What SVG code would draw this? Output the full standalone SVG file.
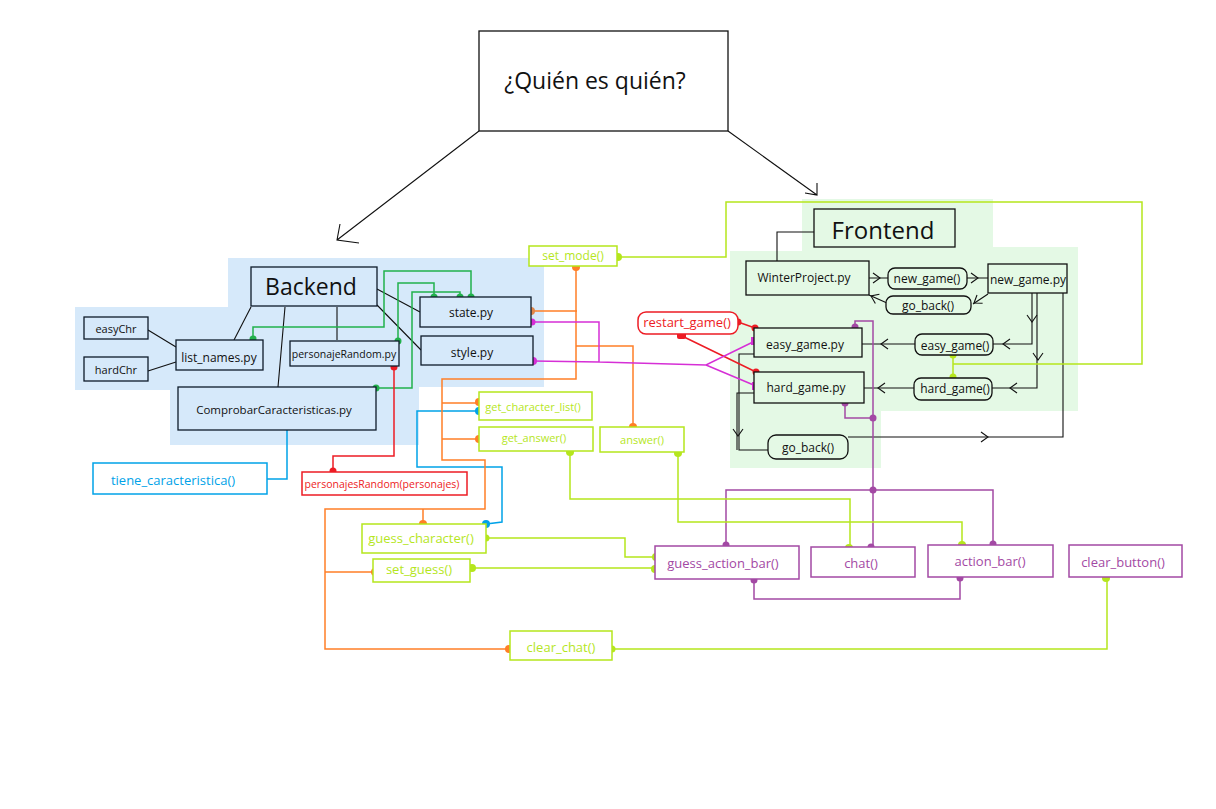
<svg xmlns="http://www.w3.org/2000/svg" width="1216" height="809" viewBox="0 0 1216 809" font-size="12">
<defs>
<style>
text{font-family:"Open Sans","Noto Sans","DejaVu Sans",sans-serif;text-anchor:middle;dominant-baseline:central;fill:#111}
.bk rect{fill:#d6e9fa;stroke:#0d1b2a;stroke-width:1.3}
.fr rect{fill:#e4f9e5;stroke:#111;stroke-width:1.3}
.lf rect{fill:#fff;stroke:#b5e61d;stroke-width:1.5}
.lf text{fill:#b5e61d}
.pf rect{fill:#fff;stroke:#a349a4;stroke-width:1.5}
.pf text{fill:#a349a4}
.rf rect{fill:#fff;stroke:#ed1c24;stroke-width:1.5}
.rf text{fill:#ed1c24}
.bf rect{fill:#fff;stroke:#00a2e8;stroke-width:1.5}
.bf text{fill:#00a2e8}
#connectors path{fill:none;stroke-width:1.5}
.k{stroke:#111;stroke-width:1.1!important}
.g{stroke:#22b14c}.r{stroke:#ed1c24}.b{stroke:#00a2e8}.o{stroke:#ff7f27}.m{stroke:#d62fd6}.p{stroke:#a349a4}.y{stroke:#b5e61d}
.dg{fill:#22b14c}.dr{fill:#ed1c24}.db{fill:#00a2e8}.do{fill:#ff7f27}.dm{fill:#d62fd6}.dp{fill:#a349a4}.dy{fill:#b5e61d}
</style>
<path id="chev" d="M-7,-5 L0,0 L-7,5" fill="none" stroke="#111" stroke-width="1.1"/>
</defs>
<rect width="1216" height="809" fill="#fff"/>
<g id="backend-area"><polygon points="228,258 544,258 544,387 419,387 419,445 170,445 170,390 75,390 75,307 228,307" fill="#d6e9fa"/></g>
<g id="frontend-area"><polygon points="802,199 993,199 993,247 1078,247 1078,411 881,411 881,468 730,468 730,251 802,251" fill="#e4f9e5"/></g>

<g id="connectors">
<path class="k" d="M479,131 L337,240 M340,224 L337,240 L359,243"/>
<path class="k" d="M728,131 L817,195 M817,183 L817,195 L805,193"/>
<path class="k" d="M251,307 L234,340 M285,307 L278,387 M337,307 L337,340 M377,289 L420,312 M377,305 L421,350 M148,330 L176,347 M148,371 L176,362"/>
<path class="k" d="M814,232 H777 V261 M869,278 H888 M967,278 H988 M988,294 L973,304 M887,303 L869,295 M1032,293 V344 H993 M1037,293 V388 H992 M1063,293 V437 H848 M915,344 H862 M914,388 H864 M754,354 H739 V450 H768 M754,393 H737 V450"/>
<use href="#chev" transform="translate(880,278)"/>
<use href="#chev" transform="translate(978,278)"/>
<use href="#chev" transform="translate(974,303) rotate(146)"/>
<use href="#chev" transform="translate(871,296) rotate(204)"/>
<use href="#chev" transform="translate(1032,322) rotate(90)"/>
<use href="#chev" transform="translate(1038,360) rotate(90)"/>
<use href="#chev" transform="translate(1003,344) rotate(180)"/>
<use href="#chev" transform="translate(1010,388) rotate(180)"/>
<use href="#chev" transform="translate(988,437)"/>
<use href="#chev" transform="translate(881,344) rotate(180)"/>
<use href="#chev" transform="translate(878,388) rotate(180)"/>
<use href="#chev" transform="translate(738,436) rotate(90)"/>

<path class="g" d="M253,339 V327 H384 V271 H471 V297 M398,341 V283 H434 V296 M376,388 H412 V292 H460 V297"/>
<path class="r" d="M394,367 V456 H333 V471 M738,322 L755,328 M682,336 L756,372"/>
<path class="b" d="M287,430 V479 H267 M479,411 H417 V467 H502 V522 L486,524"/>
<path class="o" d="M576,267 V379 H442 V460 H485 V509 H325 V649 H509 M442,403 H479 M442,439 H479 M423,509 V524 M325,572 H375 M531,311 H577 M576,346 H633 V427"/>
<path class="m" d="M532,322 H599 V362 M533,361 L599,362 L706,365 L755,341 M706,365 L756,386"/>
<path class="p" d="M855,327 V321 H873 V547 M845,403 V418 H873 M726,545 V490 H993 V544 M754,580 V599 H960 V578"/>
<path class="y" d="M618,257 H726 V202 H1142 V364 H953 M953,355 V377 M570,452 V499 H850 V548 M678,453 V522 H962 V545 M486,538 H625 V557 H656 M472,568 H655 M612,649 H1107 V578"/>
<g class="dg"><circle cx="253" cy="339" r="3.5"/><circle cx="398" cy="341" r="3.5"/><circle cx="376" cy="388" r="3.5"/><circle cx="471" cy="297" r="3.5"/><circle cx="434" cy="297" r="3.5"/><circle cx="460" cy="297" r="3.5"/></g>
<g class="dr"><circle cx="394" cy="367" r="3.5"/><circle cx="333" cy="471" r="3.5"/><circle cx="738" cy="322" r="3.5"/><circle cx="755" cy="328" r="3.5"/><rect x="677" y="332" width="9" height="7" rx="2"/><circle cx="756" cy="372" r="3.5"/></g>
<g class="db"><circle cx="479" cy="411" r="4"/><circle cx="486" cy="524" r="4"/></g>
<g class="do"><circle cx="576" cy="267" r="4"/><circle cx="479" cy="402" r="4"/><circle cx="479" cy="439" r="4"/><circle cx="423" cy="524" r="4"/><circle cx="375" cy="572" r="4"/><circle cx="509" cy="649" r="4"/><circle cx="531" cy="311" r="4" fill="#e0874a"/><circle cx="633" cy="427" r="4"/></g>
<g class="dm"><circle cx="532" cy="322" r="3.5"/><circle cx="533" cy="361" r="4"/><rect x="751" y="337" width="8" height="8"/><rect x="752" y="382" width="8" height="8"/></g>
<g class="dp"><circle cx="855" cy="327" r="3.5"/><circle cx="845" cy="403" r="3.5"/><circle cx="873" cy="418" r="3.5"/><circle cx="873" cy="490" r="3.5"/><circle cx="726" cy="545" r="3.5"/><circle cx="993" cy="544" r="3.5"/><circle cx="871" cy="547" r="3.5"/><circle cx="754" cy="580" r="3.5"/><circle cx="960" cy="578" r="3.5"/></g>
<g class="dy"><circle cx="618" cy="257" r="4"/><circle cx="953" cy="355" r="3.5"/><circle cx="953" cy="377" r="3.5"/><circle cx="570" cy="452" r="4"/><circle cx="849" cy="548" r="4"/><circle cx="678" cy="453" r="4"/><circle cx="962" cy="545" r="4"/><circle cx="486" cy="538" r="3.5"/><circle cx="656" cy="557" r="4"/><circle cx="472" cy="568" r="4"/><circle cx="655" cy="569" r="4"/><circle cx="612" cy="649" r="3.5"/><circle cx="1106" cy="578" r="4"/></g>
</g>

<g id="title"><rect x="479" y="31" width="249" height="100" fill="#fff" stroke="#111" stroke-width="1.3"/><text x="595" y="80" font-size="23">¿Quién es quién?</text></g>

<g id="backend" class="bk"><rect x="251" y="267" width="126" height="39"/><text x="311" y="286" font-size="23">Backend</text></g>
<g id="easyChr" class="bk"><rect x="84" y="317" width="64" height="22"/><text x="116" y="328" font-size="11">easyChr</text></g>
<g id="hardChr" class="bk"><rect x="84" y="357" width="64" height="24"/><text x="116" y="369" font-size="11">hardChr</text></g>
<g id="list_names" class="bk"><rect x="176" y="340" width="87" height="30"/><text x="219" y="357">list_names.py</text></g>
<g id="personajeRandom" class="bk"><rect x="290" y="341" width="109" height="25"/><text x="344" y="354" font-size="10.5">personajeRandom.py</text></g>
<g id="comprobar" class="bk"><rect x="178" y="387" width="198" height="43"/><text x="274" y="409" font-size="11.5">ComprobarCaracteristicas.py</text></g>
<g id="state" class="bk"><rect x="420" y="297" width="111" height="30"/><text x="471" y="312">state.py</text></g>
<g id="style" class="bk"><rect x="421" y="336" width="112" height="29"/><text x="472" y="352">style.py</text></g>

<g id="tiene" class="bf"><rect x="93" y="463" width="174" height="31"/><text x="173" y="480" font-size="13">tiene_caracteristica()</text></g>
<g id="personajesRandomFn" class="rf"><rect x="302" y="472" width="165" height="23"/><text x="382" y="484" font-size="10.5">personajesRandom(personajes)</text></g>
<g id="set_mode" class="lf"><rect x="529" y="246" width="88" height="20"/><text x="573" y="255">set_mode()</text></g>
<g id="get_character_list" class="lf"><rect x="479" y="392" width="113" height="28"/><text x="533" y="406" font-size="11">get_character_list()</text></g>
<g id="get_answer" class="lf"><rect x="479" y="427" width="114" height="24"/><text x="534" y="437" font-size="11">get_answer()</text></g>
<g id="answer" class="lf"><rect x="600" y="427" width="84" height="25"/><text x="642" y="439" font-size="11">answer()</text></g>
<g id="restart_game" class="rf"><rect x="638" y="312" width="100" height="22" rx="8"/><text x="687" y="322" font-size="13">restart_game()</text></g>

<g id="frontend" class="fr"><rect x="814" y="209" width="141" height="38"/><text x="883" y="229" font-size="24">Frontend</text></g>
<g id="winterproject" class="fr"><rect x="746" y="261" width="123" height="34"/><text x="804" y="277">WinterProject.py</text></g>
<g id="new_game_fn" class="fr"><rect x="888" y="268" width="79" height="21" rx="7"/><text x="927" y="278">new_game()</text></g>
<g id="go_back_top" class="fr"><rect x="886" y="296" width="85" height="18" rx="7"/><text x="928" y="305">go_back()</text></g>
<g id="new_game_py" class="fr"><rect x="988" y="264" width="79" height="29"/><text x="1028" y="279">new_game.py</text></g>
<g id="easy_game_fn" class="fr"><rect x="915" y="334" width="78" height="21" rx="7"/><text x="955" y="345">easy_game()</text></g>
<g id="hard_game_fn" class="fr"><rect x="914" y="378" width="78" height="22" rx="7"/><text x="955" y="388">hard_game()</text></g>
<g id="easy_game_py" class="fr"><rect x="754" y="328" width="108" height="29"/><text x="805" y="344">easy_game.py</text></g>
<g id="hard_game_py" class="fr"><rect x="754" y="372" width="110" height="31"/><text x="806" y="387">hard_game.py</text></g>
<g id="go_back_bottom" class="fr"><rect x="768" y="435" width="80" height="24" rx="8"/><text x="808" y="447">go_back()</text></g>

<g id="guess_character" class="lf"><rect x="362" y="524" width="124" height="29"/><text x="421" y="538" font-size="13">guess_character()</text></g>
<g id="set_guess" class="lf"><rect x="373" y="559" width="97" height="23"/><text x="419" y="569" font-size="13">set_guess()</text></g>
<g id="clear_chat" class="lf"><rect x="510" y="631" width="102" height="29"/><text x="561" y="647" font-size="13">clear_chat()</text></g>
<g id="guess_action_bar" class="pf"><rect x="655" y="546" width="144" height="33"/><text x="723" y="563" font-size="13">guess_action_bar()</text></g>
<g id="chat" class="pf"><rect x="811" y="547" width="104" height="30"/><text x="861" y="563" font-size="13">chat()</text></g>
<g id="action_bar" class="pf"><rect x="928" y="545" width="125" height="32"/><text x="990" y="561" font-size="13">action_bar()</text></g>
<g id="clear_button" class="pf"><rect x="1069" y="545" width="113" height="32"/><text x="1123" y="562" font-size="13">clear_button()</text></g>
</svg>
